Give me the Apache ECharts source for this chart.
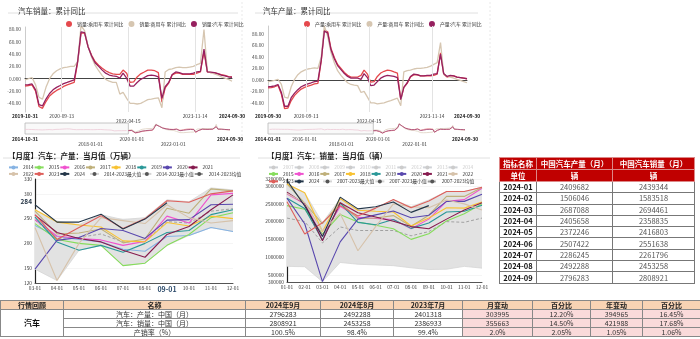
<!DOCTYPE html>
<html><head><meta charset="utf-8">
<script src="https://cdn.jsdelivr.net/npm/echarts@6/dist/echarts.min.js"></script>
<style>
html,body{margin:0;padding:0;background:#fff;width:700px;height:339px;overflow:hidden;font-family:"Noto Sans CJK SC","Noto Sans",sans-serif;}
.c{position:absolute;left:0;top:0;width:700px;height:339px;}
table{border-collapse:collapse;position:absolute;table-layout:fixed;}
#t1{left:499px;top:157px;width:195px;font-size:7.5px;}
#t1 td{border:1px solid #777;padding:0;text-align:center;height:10.3px;line-height:10px;white-space:nowrap;overflow:hidden;color:#555;}
#t1 td.d{font-weight:bold;color:#111;}
#t1 tr.h td{background:#c00000;color:#fff;font-weight:bold;height:11px;border-color:#d88;}
#t2{left:0;top:300px;width:700px;font-size:7px;}
#t2 td{border:1px solid #888;padding:0;text-align:center;height:8px;line-height:8px;white-space:nowrap;overflow:hidden;color:#333;}
#t2 tr.h td{background:#f8d3b4;font-weight:bold;color:#222;}
#t2 td.p{background:#fadada;}
#t2 td.g{font-weight:bold;font-size:8px;color:#111;}
</style></head><body>
<div id="c1" class="c"></div>
<div id="c2" class="c"></div>
<div id="c3" class="c"></div>
<div id="c4" class="c"></div>
<table id="t1"></table>
<table id="t2"></table>
<script>
// ================= DATA =================
const salesCumNames = ['销量:乘用车 累计同比','销量:商用车 累计同比','销量:汽车 累计同比'];
const salesCumPassenger = [-12,-11,-10,-20,-45,-48,-37,-28,-23,-19,-16,-12.5,-10,-8,-6,
  28,74,74,52,38,28,22,17,13,10,8,7,
  7,14,9,-6,-5,3,8,11,14,14,13,10,
  -38,-15,-7,6,9,9,7,7,7,7,9,11,
  44,11,10,10,8,6.5,5.5,3.5,3];
const salesCumCommercial = [-2,0,2,-10,-30,-33,-14,0,8,13,16,18,19,20,20,
  28,86,78,53,35,22,13,5,-1,-4,-6,-6,
  -25,-22,-32,-40,-40,-41,-40,-37,-34,-33,-32,-31,
  -47,11,15,16,18,19,18,18,19,20,23,25,
  80,12,10,8,6,3,1,-1,-4];
const salesCumTotal = [-10,-9.5,-8.5,-18,-42,-44,-33,-24,-18,-14,-11,-8,-6,-4,-2,
  30,76,75,52,37,26,20,14,9,6,4.5,4,
  1,9,1,-12,-12,-6,-1,2,5,6,5,3,
  -32,-13,-6,7,11,10,8,8,8,9,11,12,
  48,11,10.6,10,8.3,6,4.5,3,2.4];
const salesCumTotalHistory = [7.0,6.9,6.9,
  7.6,5.3,3.9,2.8,1.9,1.4,-0.4,-0.8,-0.3,1.6,3.3,4.7,
  7.5,1.3,6.8,7.0,8.2,8.1,9.9,11.3,12.8,14.0,15.0,13.7,
  0.2,6.0,4.6,2.6,2.0,3.8,4.1,3.5,4.5,4.5,3.8,3.0,
  11.6,2.2,2.8,5.2,5.7,5.6,4.2,1.9,-0.2,-0.1,-1.7,-2.8,
  -15.8,-14.9,-11.3,-12.1,-13.7,-12.4,-11.4,-11.0,-10.3];

const prodCumNames = ['产量:乘用车 累计同比','产量:商用车 累计同比','产量:汽车 累计同比'];
const prodCumPassenger = [-14,-13.5,-12,-9.5,-25,-50,-49,-36,-27,-21,-16,-13,-11,-9,-7,-6,
  33,87,84,55,39,27,20,13,8,5,5,5,
  8,17,10,-4,-3,6,12,15,17,16,14,12,
  -35,-13,-6,5,9,9,7,7,7,7,8,10,
  47,10,5,7,7,5,4,3,2];
const prodCumCommercial = [-3,-2,-1,1,-8,-30,-32,-12,1,9,14,17,19,20,21,20,
  40,94,76,48,30,16,8,1,-5,-8,-9,-10,
  -22,-20,-30,-40,-40,-42,-41,-40,-38,-36,-34,-32,
  -45,14,16,17,19,20,20,21,22,24,27,30,
  65,10,6,5,3,1,-1,-3,-5];
const prodCumTotal = [-12,-11.5,-10.5,-8,-22,-46,-46,-31,-23,-17,-12,-9,-7,-5,-3,-2,
  35,85,82,53,37,25,18,11,6,3,3,3,
  1,11,4,-10,-9,-3,3,6,8,7,6,4,
  -34,-13,-5,6,10,9,7,7,8,8,10,11,
  45,11,6,8,7,5,4,3,2];
const prodCumTotalHistory = [6.6,10.8,9.9,9.5,9.4,9.6,9.1,8.4,7.8,7.9,7.4,7.3,
  8.3,3.1,3.7,2.7,1.2,0.3,-1.5,-1.7,-1.5,0.2,2.0,3.3,
  5.6,0.4,6.4,6.7,7.6,6.5,8.6,10.1,11.9,13.0,13.9,14.5,
  0.6,9.4,8.3,5.3,5.0,5.9,6.0,4.9,5.1,4.6,3.9,3.2,
  9.9,1.6,1.2,4.0,4.4,4.2,3.0,1.2,-0.6,-0.8,-2.3,-4.2,
  -15.5,-14.0,-9.8,-12.0,-14.1,-13.8,-13.0,-12.0];
const cumTickDates = ['2020-09-13','2022-04-15','2023-11-14'];
const salesStripTicks = ['2018-01-01','2020-01-01','2022-01-01'];
const prodStripTicks = ['2016-01-01','2018-01-01','2020-01-01','2022-01-01'];

const prodMonths = ['03-01','04-01','05-01','06-01','07-01','08-01','09-01','10-01','11-01','12-01'];
const p2014 = [236,214,208,203,188,184,214,216,232,224];
const p2015 = [240,208,200,196,155,160,196,218,252,262];
const p2016 = [248,215,210,207,196,204,255,241,298,301];
const p2017 = [265,219,221,229,201,209,271,261,310,306];
const p2018 = [268,243,237,233,205,203,242,235,255,250];
const p2019 = [253,203,186,196,182,200,222,226,258,268];
const p2020 = [148,206,212,230,226,210,247,248,278,279];
const p2021 = [257,222,210,203,186,172,218,234,268,298];
const p2022 = [232,125,200,252,246,240,278,252,241,246];
const p2023 = [258,208,232,256,230,250,286,283,300,306];
const p2024 = [278,243,243,259,229,249,282];
const pMax  = [268,245,238,258,248,252,288,284,312,308];
const pMin  = [148,125,186,196,155,160,196,216,232,224];
const pMean = [247,210,212,219,203,204,244,241,265,270];
const prodYLabels = [120,150,200,250,284,300,330];

const salesMonths = ['01-01','02-01','03-01','04-01','05-01','06-01','07-01','08-01','09-01','10-01','11-01','12-01'];
const s2015 = [2450000,2350000,1650000,2200000,1990000,1900000,1800000,1500000,1660000,2020000,2220000,2500000];
const s2016 = [2780000,2500000,1590000,2430000,2120000,2090000,2060000,1800000,2070000,2570000,2620000,2940000];
const s2017 = [3060000,2520000,1940000,2540000,2080000,2100000,2170000,1870000,2180000,2710000,2710000,2960000];
const s2018 = [3060000,2810000,1720000,2650000,2320000,2290000,2270000,1880000,2100000,2390000,2380000,2550000];
const s2019 = [2660000,2370000,1480000,2520000,1980000,1910000,2060000,1810000,1960000,2270000,2290000,2460000];
const s2020 = [2660000,1940000,310000,1430000,2070000,2190000,2300000,2110000,2180000,2570000,2570000,2770000];
const s2021 = [2830000,2500000,1460000,2530000,2250000,2130000,2010000,1860000,1800000,2070000,2330000,2530000];
const s2022 = [2790000,2530000,1740000,2230000,1180000,1860000,2500000,2420000,2390000,2610000,2500000,2330000];
const s2023 = [2560000,1650000,1970000,2450000,2160000,2380000,2620000,2390000,2580000,2850000,2850000,2970000];
const s2024 = [3160000,2440000,1580000,2690000,2360000,2420000,2550000,2260000,2450000];
const sMax  = [3060000,2810000,1970000,2650000,2320000,2380000,2620000,2420000,2610000,2850000,2850000,2970000];
const sMin  = [740000,730000,310000,850000,800000,780000,760000,700000,650000,660000,740000,690000];
const sMean = [2100000,2000000,1400000,1850000,1750000,1750000,1750000,1600000,1720000,2000000,1980000,2100000];
const salesYLabels = [300000,500000,1000000,1500000,2000000,2500000,3000000,3200000];

const tblDates = ['2024-01','2024-02','2024-03','2024-04','2024-05','2024-06','2024-07','2024-08','2024-09'];
const tblProd  = [2409682,1506046,2687088,2405658,2372246,2507422,2286245,2492288,2796283];
const tblSales = [2439344,1583518,2694461,2358835,2416803,2551638,2261796,2453258,2808921];

const revHeader = ['行情回顾','名称','2024年9月','2024年8月','2023年7月','月变动','百分比','年变动','百分比'];
const revNames  = ['汽车：产量：中国（月）','汽车：销量：中国（月）','产销率（%）'];
const revRowProd  = ['2796283','2492288','2401318','303995','12.20%','394965','16.45%'];
const revRowSales = ['2808921','2453258','2386933','355663','14.50%','421988','17.68%'];
const revRowRate  = ['100.5%','98.4%','99.4%','2.0%','2.05%','1.05%','1.06%'];

// ================= HELPERS =================
const FONT = '"Noto Sans CJK SC","Noto Sans",sans-serif';
function ts(s){const p=s.split('-');return Date.UTC(+p[0],+p[1]-1,+p[2]);}
function monthEnds(y, m, n){const o=[];for(let k=0;k<n;k++){o.push(Date.UTC(y,m+k,0));}return o;}
function fmtDate(v){const d=new Date(v);const p=n=>String(n).padStart(2,'0');return d.getUTCFullYear()+'-'+p(d.getUTCMonth()+1)+'-'+p(d.getUTCDate());}
function pairs(dates, vals){return vals.map((v,i)=>[dates[i],v]);}

const cumColors = ['#e5494d','#d6c6b1','#96205f'];

function cumOption(cfg){
  const dates = monthEnds(cfg.startY, cfg.startM, cfg.total.length);
  const hDates = monthEnds(cfg.hStartY, cfg.hStartM, cfg.history.length);
  const mainTicks = [ts(cfg.min)].concat(cumTickDates.map(ts)).concat([ts(cfg.max)]);
  const stripTicks = [ts(cfg.hMin)].concat(cfg.stripTicks.map(ts)).concat([ts(cfg.max)]);
  const lineS = (name, vals, color, w) => ({name, type:'line', xAxisIndex:0, yAxisIndex:0,
     data:pairs(dates, vals), symbol:'circle', showSymbol:false, lineStyle:{width:w||1.3,color}, itemStyle:{color}, z:3});
  const stripS = (vals, color, d) => ({type:'line', xAxisIndex:1, yAxisIndex:1, data:pairs(d, vals), symbol:'none',
     lineStyle:{width:0.8,color}, silent:true});
  const s0 = lineS(cfg.names[0], cfg.passenger, cumColors[0]);
  s0.markLine = {silent:true, symbol:'none', label:{show:false}, lineStyle:{color:'#e3e3e3',width:1,type:'solid'},
     data: cumTickDates.map(d=>({xAxis:ts(d)}))};
  const hist = stripS(cfg.history, '#ecc9d6', hDates);
  hist.markArea = {silent:true, itemStyle:{color:'rgba(245,245,245,0.6)', borderColor:'#b8b8b8', borderWidth:0.8},
     data:[[{xAxis:ts(cfg.hMin)},{xAxis:ts(cfg.min)}]]};
  return {
    animation:false,
    textStyle:{fontFamily:FONT},
    title:{text:cfg.title, left:cfg.titleLeft, top:2, textStyle:{fontSize:7.5, fontWeight:'normal', color:'#333', fontFamily:FONT}},
    legend:{data:cfg.names, left:cfg.legendLeft, top:16, icon:'circle', itemWidth:6, itemHeight:6, itemGap:5,
      textStyle:{fontSize:4.9,color:'#333'}},
    grid:[{left:cfg.gridLeft, top:cfg.gridTop, width:cfg.gridW, height:cfg.gridH},
          {left:cfg.gridLeft, top:123, width:cfg.gridW-2, height:11}],
    xAxis:[
      {gridIndex:0, type:'value', min:ts(cfg.min), max:ts(cfg.max), axisLine:{lineStyle:{color:'#444',width:1}},
       axisTick:{show:false}, splitLine:{show:false},
       axisLabel:{customValues:mainTicks, fontSize:4.8, color:'#333', margin:2, hideOverlap:false,
         formatter:v=>{const s=fmtDate(v); if(v===mainTicks[0]||v===mainTicks[4]) return '{b|'+s+'}'; if(v===mainTicks[2]) return '\n'+s; return s;},
         rich:{b:{fontWeight:'bold',fontSize:4.8,color:'#111'}}}},
      {gridIndex:1, type:'value', min:ts(cfg.hMin), max:ts(cfg.max), axisLine:{show:false}, axisTick:{show:false}, splitLine:{show:false},
       axisLabel:{customValues:stripTicks, fontSize:4.8, color:'#333', margin:3, hideOverlap:false,
         formatter:v=>{const s=fmtDate(v); if(v===stripTicks[0]||v===stripTicks[stripTicks.length-1]) return '{b|'+s+'}';
           const i=stripTicks.indexOf(v); return (cfg.stagger.indexOf(i)>=0)?'\n'+s:s;},
         rich:{b:{fontWeight:'bold',fontSize:4.8,color:'#111'}}}}
    ],
    yAxis:[
      {gridIndex:0, type:'value', min:cfg.yMin, max:cfg.yMax, axisLine:{show:true,lineStyle:{color:'#ccc'}}, axisTick:{show:false},
       splitLine:{show:false},
       axisLabel:{customValues:[-40,-20,0,20,40,60,80], fontSize:4.8, color:'#444', margin:4,
         formatter:v=>v===0?'0.000':v.toFixed(2)}},
      {gridIndex:1, type:'value', min:-60, max:100, show:false}
    ],
    series:[s0, lineS(cfg.names[1], cfg.commercial, cumColors[1]), lineS(cfg.names[2], cfg.total, cumColors[2]),
      hist,
      stripS(cfg.passenger, '#e98b8e', dates), stripS(cfg.commercial, '#ddd0c0', dates), stripS(cfg.total, '#a2406f', dates)],
    graphic:[{type:'line', shape:{x1:cfg.ruleX1,y1:13,x2:cfg.ruleX2,y2:13}, style:{stroke:'#d8d8d8',lineWidth:0.8}, silent:true},
             {type:'line', shape:{x1:cfg.sepX,y1:2,x2:cfg.sepX,y2:143}, style:{stroke:'#e4e4e4',lineWidth:0.8,lineDash:[2,2]}, silent:true}]
  };
}

function safeInit(id, opt){
  try { echarts.init(document.getElementById(id)).setOption(opt); } catch(e){ console.error(id, e && e.message); }
}

safeInit('c1', cumOption({
  title:'汽车销量：累计同比', titleLeft:13, legendLeft:61, names:salesCumNames,
  passenger:salesCumPassenger, commercial:salesCumCommercial, total:salesCumTotal, history:salesCumTotalHistory,
  startY:2019, startM:10, hStartY:2014, hStartM:10, min:'2019-10-31', max:'2024-09-30', hMin:'2014-10-31',
  stripTicks:salesStripTicks, stagger:[1,3],
  gridLeft:25, gridTop:27, gridW:207, gridH:85, yMin:-54, yMax:84, ruleX1:8, ruleX2:238, sepX:242
}));
safeInit('c2', cumOption({
  title:'汽车产量：累计同比', titleLeft:258, legendLeft:299, names:prodCumNames,
  passenger:prodCumPassenger, commercial:prodCumCommercial, total:prodCumTotal, history:prodCumTotalHistory,
  startY:2019, startM:9, hStartY:2014, hStartM:1, min:'2019-09-30', max:'2024-09-30', hMin:'2014-01-01',
  stripTicks:prodStripTicks, stagger:[2,4],
  gridLeft:268, gridTop:26, gridW:199, gridH:86, yMin:-56, yMax:94, ruleX1:255, ruleX2:478, sepX:490
}));

const yearColors = {'2014':'#86b3e3','2015':'#86dd5c','2016':'#f052cf','2017':'#bfb07a','2018':'#f8c232','2019':'#2a9898',
  '2020':'#5948ae','2021':'#861a4e','2022':'#d6c2aa','2023':'#de5f5b','2024':'#233649'};
function seasonal(cfg){
  const series = [];
  series.push({name:'_base', type:'line', stack:'band', data:cfg.min, symbol:'none', lineStyle:{opacity:0}, silent:true});
  series.push({name:'_band', type:'line', stack:'band', data:cfg.max.map((v,i)=>v-cfg.min[i]), symbol:'none',
    lineStyle:{opacity:0}, areaStyle:{color:'#e2e2e2', opacity:1}, silent:true});
  cfg.disabled.forEach(n=>series.push({name:n, type:'line', data:[], symbol:'circle', itemStyle:{color:'#ccc'}}));
  series.push({name:cfg.statNames[0], type:'line', data:cfg.max, symbol:'circle', showSymbol:false, itemStyle:{color:'#555'}, lineStyle:{color:'#d5d5d5',width:0.8}});
  series.push({name:cfg.statNames[1], type:'line', data:cfg.min, symbol:'circle', showSymbol:false, itemStyle:{color:'#555'}, lineStyle:{color:'#d5d5d5',width:0.8}});
  series.push({name:cfg.statNames[2], type:'line', data:cfg.mean, symbol:'circle', showSymbol:false, itemStyle:{color:'#555'}, lineStyle:{color:'#9a9a9a',width:0.9,type:[3,2]}});
  cfg.years.forEach(y=>series.push({name:y, type:'line', data:cfg.data[y], symbol:'circle', showSymbol:false,
     itemStyle:{color:yearColors[y]}, lineStyle:{color:yearColors[y], width:1.1}, z:3}));
  const sel = {}; cfg.disabled.forEach(n=>sel[n]=false);
  const legends = cfg.legendRows.map(r=>({data:r[0], left:r[1], top:r[2], itemWidth:9, itemHeight:5, itemGap:0,
     selected:sel, inactiveColor:'#ccc', textStyle:{fontSize:4.8, color:'#333', width:r[3], overflow:'none'}}));
  return {
    animation:false, textStyle:{fontFamily:FONT},
    title:{text:cfg.title, left:cfg.titleLeft, top:147, textStyle:{fontSize:7.5, fontWeight:'bold', color:'#222', fontFamily:FONT}},
    legend:legends,
    grid:{left:cfg.grid[0], top:cfg.grid[1], width:cfg.grid[2], height:cfg.grid[3]},
    xAxis:{type:'category', data:cfg.cats, boundaryGap:false, axisLine:{lineStyle:{color:'#555'}}, axisTick:{show:false},
      axisLabel:{interval:0, fontSize:4.8, color:'#333', margin:3,
        formatter:v=>v===cfg.hiX?'{h|'+v+'}':v, rich:{h:{fontWeight:'bold',fontSize:7,color:'#2b4a6a'}}}},
    yAxis:{type:'value', min:cfg.yMin, max:cfg.yMax, axisLine:{show:true,lineStyle:{color:'#222',width:1.2}}, axisTick:{show:false},
      splitLine:{lineStyle:{color:'#efefef',width:0.6}},
      axisLabel:{customValues:cfg.yLabels, fontSize:4.8, color:'#333', margin:3,
        formatter:v=>v===cfg.hiY?'{h|'+v+'}':String(v), rich:{h:{fontWeight:'bold',fontSize:6.5,color:'#2b3a4a'}}}},
    series,
    graphic:[{type:'line', shape:{x1:cfg.rule[0],y1:158,x2:cfg.rule[1],y2:158}, style:{stroke:'#d8d8d8',lineWidth:0.8}, silent:true}]
  };
}
safeInit('c3', seasonal({
  title:'【月度】汽车：产量：当月值（万辆）', titleLeft:3, cats:prodMonths, hiX:'09-01', hiY:284,
  years:['2014','2015','2016','2017','2018','2019','2020','2021','2022','2023','2024'],
  data:{'2014':p2014,'2015':p2015,'2016':p2016,'2017':p2017,'2018':p2018,'2019':p2019,'2020':p2020,'2021':p2021,'2022':p2022,'2023':p2023,'2024':p2024},
  disabled:[], statNames:['2014-2023最大值','2014-2023最小值','2014-2023均值'], max:pMax, min:pMin, mean:pMean,
  legendRows:[[['2014','2015','2016','2017','2018','2019','2020','2021'],3,160,13.3],
              [['2022','2023','2024'],3,166.5,13.3],
              [['2014-2023最大值','2014-2023最小值','2014-2023均值'],84,166.5,40.6]],
  grid:[35,179,198,104], yMin:120, yMax:330, yLabels:prodYLabels, rule:[3,240]
}));
safeInit('c4', seasonal({
  title:'【月度】汽车：销量：当月值（辆）', titleLeft:262, cats:salesMonths, hiX:null, hiY:null,
  years:['2015','2016','2017','2018','2019','2020','2021','2022','2023','2024'],
  data:{'2015':s2015,'2016':s2016,'2017':s2017,'2018':s2018,'2019':s2019,'2020':s2020,'2021':s2021,'2022':s2022,'2023':s2023,'2024':s2024},
  disabled:['2007','2008','2009','2010','2011','2012','2013','2014'],
  statNames:['2007-2023最大值','2007-2023最小值','2007-2023均值'], max:sMax, min:sMin, mean:sMean,
  legendRows:[[['2007','2008','2009','2010','2011','2012','2013','2014'],263,160,13.3],
              [['2015','2016','2017','2018','2019','2020','2021','2022'],263,166.5,13.3],
              [['2023','2024'],263,174,13.3],
              [['2007-2023最大值','2007-2023最小值','2007-2023均值'],317,174,40.6]],
  grid:[287,179,195,103], yMin:300000, yMax:3200000, yLabels:salesYLabels, rule:[258,490]
}));

(function(){
  let h = '<colgroup><col style="width:37px"><col style="width:76px"><col style="width:82px"></colgroup>';
  h += '<tr class="h"><td>指标名称</td><td>中国汽车产量（月）</td><td>中国汽车销量（月）</td></tr>';
  h += '<tr class="h"><td>单位</td><td>辆</td><td>辆</td></tr>';
  tblDates.forEach((d,i)=>{h += '<tr><td class="d">'+d+'</td><td>'+tblProd[i]+'</td><td>'+tblSales[i]+'</td></tr>';});
  document.getElementById('t1').innerHTML = h;
  const widths = [63,182,75,73,69,70,58,52,58];
  let g = '<colgroup>'+widths.map(w=>'<col style="width:'+w+'px">').join('')+'</colgroup>';
  g += '<tr class="h">'+revHeader.map(t=>'<td>'+t+'</td>').join('')+'</tr>';
  const rows = [revRowProd, revRowSales, revRowRate];
  rows.forEach((r,i)=>{
    g += '<tr>' + (i===0?'<td rowspan="3" class="g">汽车</td>':'') + '<td>'+revNames[i]+'</td>' +
      r.map((v,j)=>'<td'+(j>=3?' class="p"':'')+'>'+v+'</td>').join('') + '</tr>';
  });
  document.getElementById('t2').innerHTML = g;
})();
</script>
</body></html>
